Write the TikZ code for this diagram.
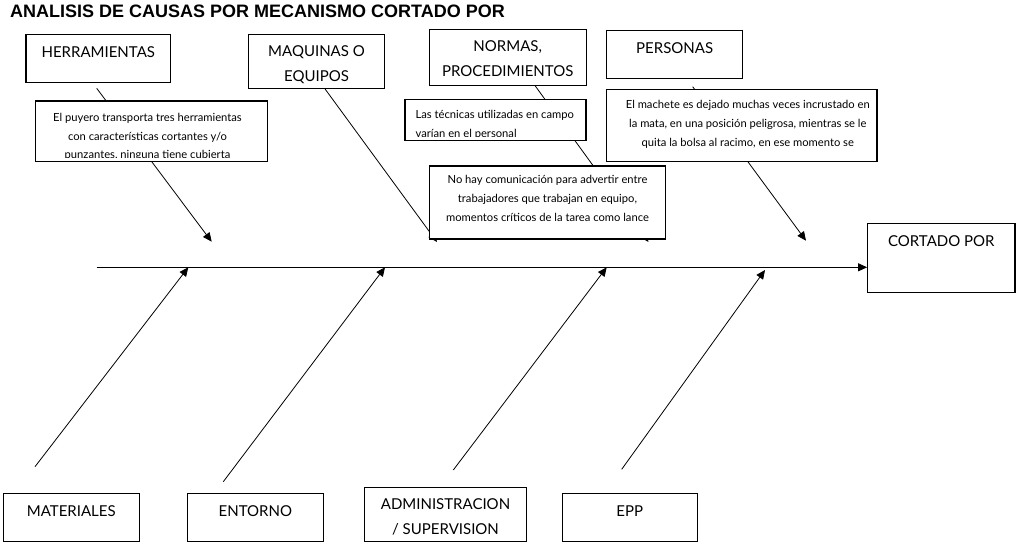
\documentclass[tikz,border=0pt]{standalone}
\usepackage{fontspec}
\setmainfont{Lato}
\newfontfamily\titlefont{Liberation Sans}
\usetikzlibrary{arrows.meta, positioning}
\tikzstyle{cause}=[rectangle, draw=black, line width=1.1pt, inner sep=0pt]
\tikzstyle{note}=[rectangle, draw=black, fill=white, line width=1.1pt, inner sep=0pt]
\tikzstyle{lbl}=[anchor=base, align=center, inner sep=0pt, yshift=-23.5pt, font=\fontsize{15}{25}\selectfont]
\tikzstyle{lbltwo}=[lbl, yshift=-24.5pt]
\tikzstyle{notetext}=[anchor=base, align=center, inner sep=0pt, font=\fontsize{11.2}{19}\selectfont]
\tikzstyle{bone}=[line width=0.8pt, -{Triangle[length=9pt,width=8pt]}]

\begin{document}
\begin{tikzpicture}[x=1pt, y=-1pt]
  \useasboundingbox (0,0) rectangle (1025,549);
  \node[anchor=base west, inner sep=0pt, font=\titlefont\bfseries\fontsize{18}{20}\selectfont] (title) at (10,17.5) {ANALISIS DE CAUSAS POR MECANISMO CORTADO POR};

  % causes, top row
  \node[cause, minimum width=144.7, minimum height=48.3] (herr) at (98.3,58.2) [label={[lbl]north:HERRAMIENTAS}] {};
  \node[cause, minimum width=136.4, minimum height=54.3] (maq) at (316.5,61.2) [label={[lbltwo]north:{MAQUINAS O\\EQUIPOS}}] {};
  \node[cause, minimum width=156.7, minimum height=55.7] (norm) at (507.7,57.2) [label={[lbltwo]north:{NORMAS,\\PROCEDIMIENTOS}}] {};
  \node[cause, minimum width=136, minimum height=48.3] (pers) at (674.7,54.2) [label={[lbl]north:PERSONAS}] {};
  % causes, bottom row
  \node[cause, minimum width=136, minimum height=47.7] (mat) at (71.3,517.2) [label={[lbl]north:MATERIALES}] {};
  \node[cause, minimum width=136, minimum height=47.7] (ent) at (255.3,517.2) [label={[lbl]north:ENTORNO}] {};
  \node[cause, minimum width=162.4, minimum height=53.7] (adm) at (445.5,514.2) [label={[lbltwo]north:{ADMINISTRACION\\/ SUPERVISION}}] {};
  \node[cause, minimum width=135.3, minimum height=47.7] (epp) at (629.7,517.2) [label={[lbl]north:EPP}] {};
  % effect
  \node[cause, minimum width=147.3, minimum height=69.4] (cut) at (941.3,258) [label={[lbl]north:CORTADO POR}] {};

  % spine
  \coordinate (tail) at (96.7,267.3);
  \draw[bone] (tail) -- (cut.west |- tail);

  % bones from above
  \coordinate (h1) at (96.7,88.3);  \coordinate (h2) at (211.7,241.7);
  \coordinate (m2) at (437,242);
  \coordinate (n2) at (648.5,242);
  \coordinate (p1) at (692.7,86.7); \coordinate (p2) at (806,240.7);
  \draw[bone] (h1) -- (h2);
  \draw[bone] ([xshift=8.5]maq.south) -- (m2);
  \draw[bone] ([xshift=27.3]norm.south) -- (n2);
  \draw[bone] (p1) -- (p2);

  % bones from below
  \coordinate (ma1) at (35,466.7);    \coordinate (ma2) at (188.3,267.3);
  \coordinate (en1) at (223.3,481.7); \coordinate (en2) at (385,267.3);
  \coordinate (ad1) at (453.3,470);   \coordinate (ad2) at (606.7,267.3);
  \coordinate (ep1) at (621.7,469.3); \coordinate (ep2) at (765,270);
  \draw[bone] (ma1) -- (ma2);
  \draw[bone] (en1) -- (en2);
  \draw[bone] (ad1) -- (ad2);
  \draw[bone] (ep1) -- (ep2);

  % notes on top of the bones
  \node[note, minimum width=231.6, minimum height=60.7] (herrnote) at (151.5,131.3) {};
  \node[note, minimum width=181, minimum height=41.4] (normnote) at (495.5,120) {};
  \node[note, minimum width=236.4, minimum height=73] (comnote) at (547.5,202.5) {};
  \node[note, minimum width=270.3, minimum height=72] (persnote) at (741.8,125.3) {};

  \begin{scope}
    \clip ([yshift=4.5]herrnote.south west) rectangle (herrnote.north east);
    \node[notetext, font=\fontsize{11.2}{18.3}\selectfont, xshift=-4, yshift=-58] (herrtxt) at (herrnote.north) {El puyero transporta tres herramientas\\con características cortantes y/o\\punzantes, ninguna tiene cubierta};
  \end{scope}
  \begin{scope}
    \clip ([yshift=5]normnote.south west) rectangle (normnote.north east);
    \node[notetext, anchor=base west, align=left, xshift=11, yshift=-38.8] (normtxt) at (normnote.north west) {Las técnicas utilizadas en campo\\varían en el personal};
  \end{scope}
  \node[notetext, yshift=-56.4] (comtxt) at (comnote.north) {No hay comunicación para advertir entre\\trabajadores que trabajan en equipo,\\momentos críticos de la tarea como lance};
  \begin{scope}
    \clip (persnote.south west) rectangle (persnote.north east);
    \node[notetext, xshift=6, yshift=-58.1] (perstxt) at (persnote.north) {El machete es dejado muchas veces incrustado en\\la mata, en una posición peligrosa, mientras se le\\quita la bolsa al racimo, en ese momento se};
  \end{scope}
\end{tikzpicture}
\end{document}
